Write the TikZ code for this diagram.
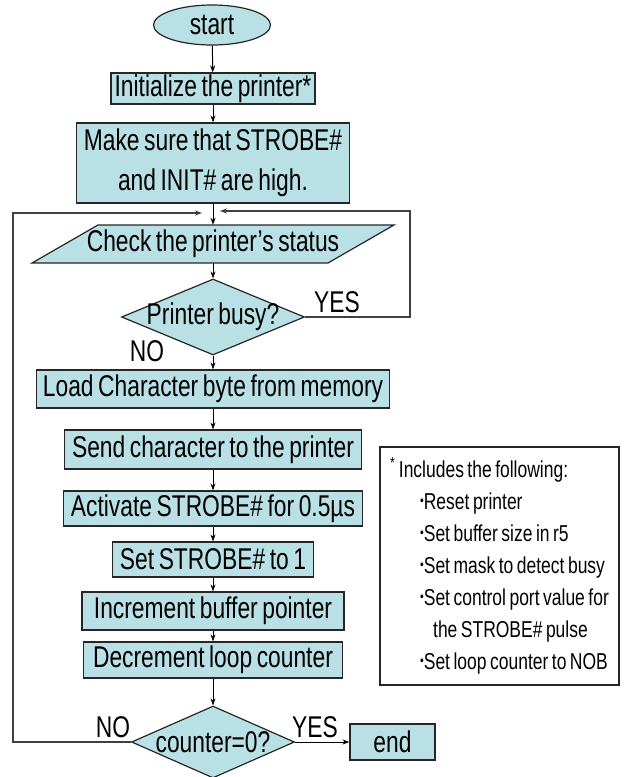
\documentclass[tikz,border=0pt]{standalone}
\usepackage{fontspec}
\setmainfont{Liberation Sans}[FakeStretch=0.76, WordSpace=0.72]
\usepackage{tikz}
\usetikzlibrary{shapes.geometric, arrows.meta}
\definecolor{boxfill}{RGB}{185,224,228}
\tikzstyle{arrow} = [line width=1pt,-{Stealth[length=7pt,width=5pt]}]
\tikzstyle{loopline} = [line width=1.3pt, draw=black!75]
\tikzstyle{process} = [rectangle, inner sep=0pt, text centered, draw=black!85, line width=1.2pt, fill=boxfill]
\tikzstyle{startstop} = [ellipse, inner sep=0pt, draw=black!85, line width=1.2pt, fill=boxfill]
\tikzstyle{decision} = [diamond, inner sep=0pt, draw=black!85, line width=1.2pt, fill=boxfill]
\tikzstyle{answer} = [inner sep=0pt]
\newcommand{\nbul}{{\fontsize{14}{14}\selectfont\raisebox{4pt}{\textbullet}}}

\begin{document}
\begin{tikzpicture}[x=1pt, y=-1pt, font=\fontsize{30}{40}\selectfont]
        \useasboundingbox (0,0) rectangle (626,777);

        % Awal dan inisialisasi
        \node (start) [startstop, minimum width=117pt, minimum height=40pt] at (212,25) {start};
        \node (init) [process, minimum width=204pt, minimum height=31pt] at (213,88.5) {Initialize the printer*};
        \node (sure) [process, minimum width=273pt, minimum height=80pt, align=center] at (213,163) {Make sure that STROBE\#\\and INIT\# are high.};

        % Titik pertemuan loop
        \coordinate (jl) at (202,213);
        \coordinate (jr) at (220,211);
        \coordinate (loopL) at (13,213);
        \coordinate (loopR) at (410,211);

        % Cek status printer (jajaran genjang)
        \coordinate (chk) at (213,244);
        \draw [line width=1.2pt, draw=black!85, fill=boxfill] (98,225) -- (394,225) -- (328,263) -- (32,263) -- cycle;
        \node (check) [answer, minimum width=230pt, minimum height=38pt] at (chk) {Check the printer’s status};
        \node (busy) [decision, minimum width=183pt, minimum height=76pt, label={center:{Printer busy?}}] at (213,317) {};
        \node (yes1) [answer] at (337,302) {YES};
        \node (no1) [answer] at (147,351) {NO};

        % Proses pengiriman karakter
        \node (load) [process, minimum width=353pt, minimum height=38pt] at (213,389) {Load Character byte from memory};
        \node (send) [process, minimum width=297pt, minimum height=39pt] at (213,449.5) {Send character to the printer};
        \node (act) [process, minimum width=299pt, minimum height=35pt] at (213,508.5) {Activate STROBE\# for 0.5µs};
        \node (setstb) [process, minimum width=201pt, minimum height=35pt] at (213,559.5) {Set STROBE\# to 1};
        \node (incr) [process, minimum width=262pt, minimum height=38pt] at (213,611) {Increment buffer pointer};
        \node (decr) [process, minimum width=259pt, minimum height=36pt] at (213,660) {Decrement loop counter};
        \node (counter) [decision, minimum width=163pt, minimum height=72pt, label={center:{counter=0?}}] at (213,742) {};
        \node (yes2) [answer] at (315,727) {YES};
        \node (no2) [answer] at (113,727) {NO};
        \node (end) [process, minimum width=85pt, minimum height=36pt] at (392.5,742) {end};

        % Catatan inisialisasi
        \node (note) [rectangle, draw=black!85, line width=1.2pt, minimum width=239pt, minimum height=238pt, align=left, inner sep=0pt, font=\fontsize{23}{32}\selectfont] at (499.5,566) {\textsuperscript{*} Includes the following:\\
        \hspace*{30pt}\nbul Reset printer\\
        \hspace*{30pt}\nbul Set buffer size in r5\\
        \hspace*{30pt}\nbul Set mask to detect busy\\
        \hspace*{30pt}\nbul Set control port value for\\
        \hspace*{43pt}the STROBE\# pulse\\
        \hspace*{30pt}\nbul Set loop counter to NOB};

        % Garis panah
        \draw [arrow] (start) -- (init);
        \draw [arrow] (init) -- (sure);
        \draw [arrow] (sure) -- (check);
        \draw [arrow] (check) -- (busy);
        \draw [arrow] (busy) -- (load);
        \draw [arrow] (load) -- (send);
        \draw [arrow] (send) -- (act);
        \draw [arrow] (act) -- (setstb);
        \draw [arrow] (setstb) -- (incr);
        \draw [arrow] (incr) -- (decr);
        \draw [arrow] (decr) -- (counter);
        \draw [arrow] (counter.east) -- (end.west);
        \draw [arrow, loopline] (busy.east) -| (loopR) -- (jr);
        \draw [arrow, loopline] (counter.west) -| (loopL) -- (jl);
    \end{tikzpicture}
\end{document}
